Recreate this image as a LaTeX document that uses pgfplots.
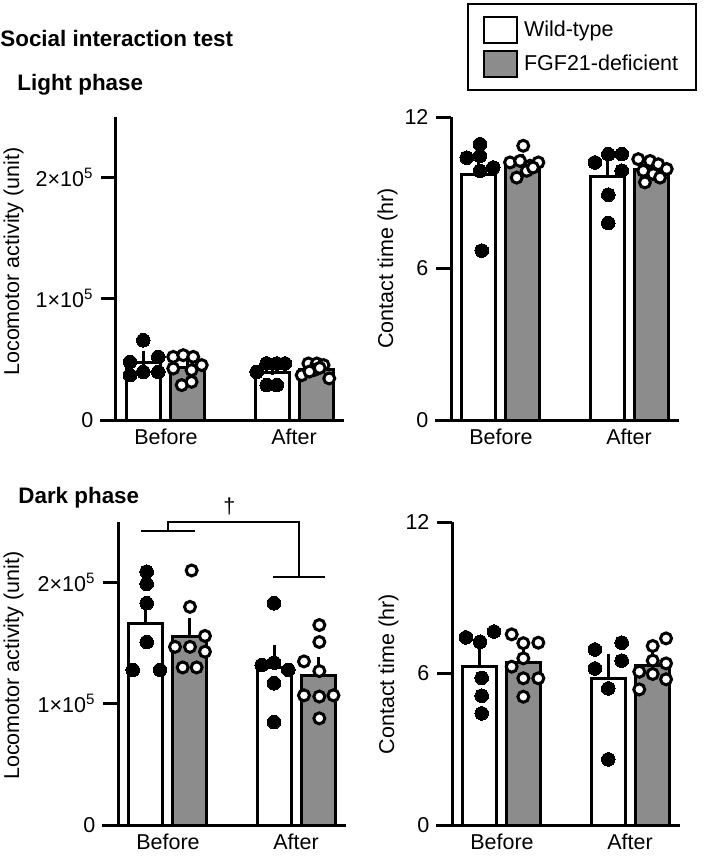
\documentclass[border=0pt]{standalone}
\usepackage{fontspec}
\setmainfont{Liberation Sans}
\usepackage{pgfplots}
\pgfplotsset{compat=1.18}
\definecolor{barg}{RGB}{140,140,140}

\pgfplotsset{
  panel/.style={
    scale only axis, width=114pt, height=151.5pt,
    xmin=-0.39, xmax=1.39, ymin=0,
    axis x line*=bottom, axis y line*=left,
    axis line style={line width=1.5pt, black},
    x axis line style={shorten <=-8pt},
    xtick={0,1}, xticklabels={Before,After},
    xtick style={draw=none},
    xticklabel shift=-7pt,
    tick align=outside, major tick length=7.5pt,
    ytick style={line width=1.5pt, black},
    scaled y ticks=false,
    clip=false,
  },
  wtbar/.style={ybar, bar width=17pt, bar shift=0pt, draw=black, line width=1.5pt, fill=white,
    legend image code/.code={\draw[black, line width=1pt, fill=white] (0pt,-6.5pt) rectangle (16.5pt,6.5pt);},
    error bars/y dir=plus, error bars/y explicit,
    error bars/error bar style={line width=1.5pt, black},
    error bars/error mark options={line width=1.5pt, black, mark size=3.5pt}},
  kobar/.style={ybar, bar width=17pt, bar shift=0pt, draw=black, line width=1.5pt, fill=barg,
    legend image code/.code={\draw[black, line width=1pt, fill=barg] (0pt,-6.5pt) rectangle (16.5pt,6.5pt);},
    error bars/y dir=plus, error bars/y explicit,
    error bars/error bar style={line width=1.5pt, black},
    error bars/error mark options={line width=1.5pt, black, mark size=3.5pt}},
  wtdot/.style={only marks, mark=*, mark size=3.4pt, mark options={fill=black, draw=black, line width=0pt}, forget plot},
  kodot/.style={only marks, mark=*, mark size=2.75pt, mark options={fill=white, draw=black, line width=1.5pt}, forget plot},
}

\begin{document}
\fontsize{10.75}{13}\selectfont
\begin{tikzpicture}
\useasboundingbox (0,0) rectangle (354.5pt,-428.5pt);
\node[anchor=base west, inner sep=0pt, font=\fontsize{11.2}{13}\selectfont\bfseries] at (0pt,-23.35pt) {Social interaction test};
\node[anchor=base west, inner sep=0pt, font=\fontsize{11.2}{13}\selectfont\bfseries] at (8.5pt,-45pt) {Light phase};
\node[anchor=base west, inner sep=0pt, font=\fontsize{11.2}{13}\selectfont\bfseries] at (9pt,-251.7pt) {Dark phase};

% light phase, locomotor activity
\begin{axis}[panel, at={(58pt,-210pt)}, anchor=south west,
  ymax=250000, ytick={0,100000,200000},
  yticklabels={0,1×10\textsuperscript{5},2×10\textsuperscript{5}},
  ylabel={Locomotor activity (unit)},
  ylabel style={at={([xshift=-46pt]axis description cs:0,0.523)}, anchor=south, inner sep=0pt}]
\addplot[wtbar] coordinates {(-0.172,47050) +- (0,4420) (0.828,39540) +- (0,3570)};
\addplot[kobar] coordinates {(0.172,43375) +- (0,3320) (1.172,41763) +- (0,1601)};
\addplot[wtdot] coordinates {(-0.177,65800) (-0.281,48000) (-0.060,52100) (-0.281,37000) (-0.177,39700) (-0.060,39700)
  (0.708,39700) (0.786,46650) (0.865,46650) (0.929,46650) (0.786,28800) (0.865,28800)};
\addplot[kodot] coordinates {(0.057,52100) (0.135,53500) (0.213,52100) (0.279,45300) (0.057,42500) (0.200,41200) (0.123,28800) (0.200,31500)
  (1.060,37000) (1.112,46650) (1.178,46650) (1.230,45300) (1.275,34300) (1.157,41200) (1.120,40000) (1.200,43000)};
\end{axis}

% light phase, contact time
\begin{axis}[panel, at={(225.5pt,-210pt)}, anchor=south west,
  ymax=12, ytick={0,6,12}, yticklabels={0,6,12},
  ylabel={Contact time (hr)},
  ylabel style={at={([xshift=-26.5pt]axis description cs:0,0.5)}, anchor=south, inner sep=0pt},
  legend style={at={(axis description cs:0.0702,1.376)}, anchor=north west, draw=black, line width=1pt,
    inner xsep=7.5pt, inner ysep=6pt, row sep=3pt, column sep=1.5pt, nodes={inner sep=1.5pt}},
  legend cell align=left]
\addplot[wtbar] coordinates {(-0.172,9.725) +- (0,0.622) (0.828,9.64) +- (0,0.442)};
\addlegendentry{Wild-type}
\addplot[kobar] coordinates {(0.172,10.13) +- (0,0.129) (1.172,9.91) +- (0,0.114)};
\addlegendentry{FGF21-deficient}
\addplot[wtdot] coordinates {(-0.164,10.92) (-0.267,10.39) (-0.164,10.46) (-0.060,10.0) (-0.164,9.87) (-0.150,6.71)
  (0.734,10.2) (0.838,10.53) (0.943,10.53) (0.943,9.87) (0.838,8.92) (0.838,7.8)};
\addplot[kodot] coordinates {(0.174,10.86) (0.071,10.2) (0.149,10.26) (0.227,10.07) (0.292,10.2) (0.123,9.6) (0.201,9.87) (0.250,10.0)
  (1.072,10.33) (1.164,10.26) (1.228,10.13) (1.294,9.94) (1.111,9.87) (1.189,9.74) (1.242,9.6) (1.124,9.41)};
\end{axis}

% dark phase, locomotor activity
\begin{axis}[panel, at={(59pt,-412.5pt)}, anchor=south west,
  ymax=250000, ytick={0,100000,200000},
  yticklabels={0,1×10\textsuperscript{5},2×10\textsuperscript{5}},
  ylabel={Locomotor activity (unit)},
  ylabel style={at={([xshift=-47pt]axis description cs:0,0.526)}, anchor=south, inner sep=0pt}]
\addplot[wtbar] coordinates {(-0.172,166333) +- (0,14535) (0.828,129833) +- (0,12940)};
\addplot[kobar] coordinates {(0.172,155375) +- (0,9610) (1.172,123250) +- (0,9190)};
\addplot[wtdot] coordinates {(-0.166,209000) (-0.166,199000) (-0.166,183000) (-0.166,151000) (-0.275,128000) (-0.062,128000)
  (0.828,183000) (0.732,132000) (0.828,134000) (0.940,128000) (0.828,117000) (0.828,85000)};
\addplot[kodot] coordinates {(0.185,210000) (0.172,180000) (0.289,156000) (0.055,147000) (0.172,147000) (0.289,143000) (0.115,130000) (0.224,130000)
  (1.182,165000) (1.182,151000) (1.062,135000) (1.182,127000) (1.062,107000) (1.182,106000) (1.292,107000) (1.182,88000)};
% before vs after bracket
\draw[line width=0.9pt] (axis cs:-0.207,242400) -- (axis cs:0.209,242400);
\draw[line width=0.9pt] (axis cs:0,242400) -- (axis cs:0,250000) -- (axis cs:1.02,250000) -- (axis cs:1.02,204700);
\draw[line width=0.9pt] (axis cs:0.818,204700) -- (axis cs:1.227,204700);
\node[anchor=south, inner sep=0pt] at ([yshift=3.5pt]axis cs:0.48,250000) {†};
\end{axis}

% dark phase, contact time
\begin{axis}[panel, at={(226pt,-412.5pt)}, anchor=south west,
  ymax=12, ytick={0,6,12}, yticklabels={0,6,12},
  ylabel={Contact time (hr)},
  ylabel style={at={([xshift=-26.5pt]axis description cs:0,0.498)}, anchor=south, inner sep=0pt}]
\addplot[wtbar] coordinates {(-0.172,6.287) +- (0,0.554) (0.828,5.815) +- (0,0.693)};
\addplot[kobar] coordinates {(0.172,6.443) +- (0,0.302) (1.172,6.32) +- (0,0.238)};
\addplot[wtdot] coordinates {(-0.281,7.43) (-0.171,7.26) (-0.062,7.66) (-0.158,5.83) (-0.158,5.12) (-0.158,4.42)
  (0.726,6.95) (0.935,7.22) (0.726,6.2) (0.935,6.51) (0.830,5.41) (0.830,2.6)};
\addplot[kodot] coordinates {(0.076,7.55) (0.167,7.2) (0.284,7.22) (0.167,6.6) (0.076,6.27) (0.284,5.81) (0.167,5.81) (0.167,5.08)
  (1.281,7.39) (1.177,7.09) (1.177,6.51) (1.281,6.4) (1.072,6.07) (1.177,5.98) (1.281,5.77) (1.072,5.37)};
\end{axis}
\end{tikzpicture}
\end{document}
